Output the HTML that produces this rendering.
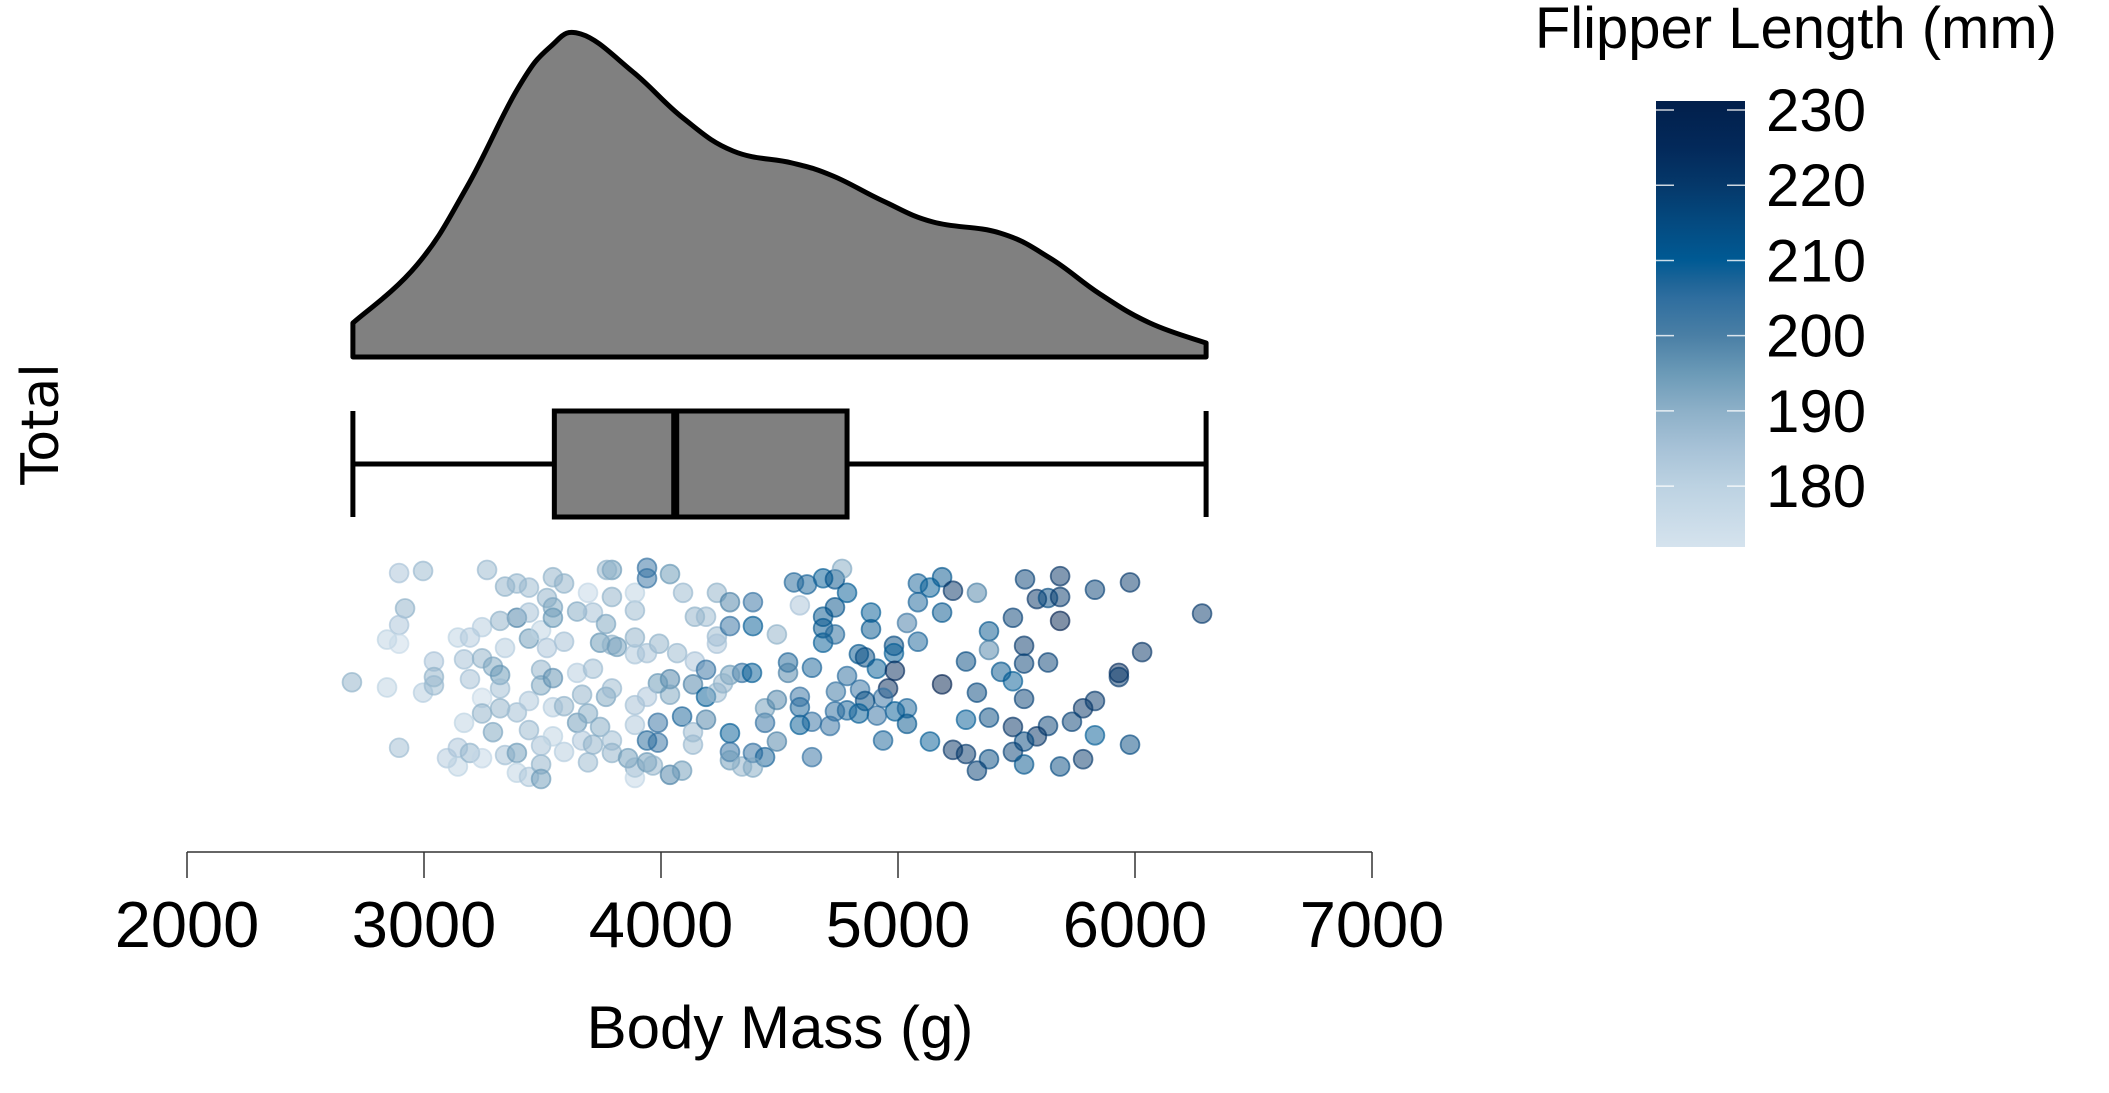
<!DOCTYPE html>
<html><head><meta charset="utf-8"><style>
html,body{margin:0;padding:0;background:#fff;}
svg{display:block;}
text{font-family:"Liberation Sans",sans-serif;fill:#000;}
</style></head><body>
<svg id="chart" width="2109" height="1093" viewBox="0 0 2109 1093" xmlns="http://www.w3.org/2000/svg">
<defs>
<linearGradient id="cbar" x1="0" y1="1" x2="0" y2="0"></linearGradient>
</defs>
<g id="density"></g>
<g id="box"></g>
<g id="points"></g>
<g id="xaxis"></g>
<text x="780" y="1048" font-size="60" text-anchor="middle">Body Mass (g)</text>
<text transform="translate(58,424) rotate(-90)" font-size="52" text-anchor="middle" style="font-family:'DejaVu Sans',sans-serif">Total</text>
<g id="legend">
<text x="2057" y="48" font-size="58" text-anchor="end">Flipper Length (mm)</text>
</g>
</svg>
<script>
const xTicks=[2000,3000,4000,5000,6000,7000];
const densMass=[2700,2970,3181,3392,3532,3662,3882,4093,4304,4553,4726,4937,5148,5430,5641,5852,6063,6300];
const densVal=[34,92,170,267,310,323,285,239,206,194,181,156,135,124,99,63,34,14];
const boxStats=[2700,3550,4060,4785,6300];
const cbTicks=[180,190,200,210,220,230];
const cbStopVals=[171.9,180,185,190,195,200,205,207,210,215,220,225,231.2];
const cbStopCols=["#d5e3ee","#bcd2e2","#a7c2d7","#8db0c8","#6b9ab7","#4a7fa5","#2f6e9f","#1f6598","#005a94","#044a80","#05386a","#03295a","#021f4b"];
const ptMass=[2696,2844,2895,2996,2920,2895,2844,2895,2996,3042,3042,3042,2895,3097,3143,3143,3194,3245,3169,3194,3169,3143,3194,3245,3266,3342,3392,3443,3245,3291,3321,3321,3245,3245,3291,3321,3342,3392,3392,3443,3494,3494,3443,3494,3392,3443,3342,3392,3321,3443,3443,3494,3519,3544,3544,3544,3591,3646,3692,3713,3591,3519,3494,3494,3544,3646,3713,3544,3591,3667,3646,3692,3667,3713,3692,3544,3591,3743,3793,3793,3768,3793,3743,3768,3793,3814,3793,3793,3772,3890,3890,3890,3890,3890,3861,3890,3890,3890,3941,3941,4038,3941,3966,4038,4089,3992,3941,4068,4038,4038,3987,3941,3987,3941,3987,4089,4135,4135,4135,4143,4190,4190,4190,4236,4143,4190,4093,4236,4236,4236,4291,4291,4388,4388,4489,4291,4291,4291,4342,4388,4439,4388,4439,4489,4439,4489,4342,4384,4291,4262,
5536,5684,5979,5831,5586,5633,5684,6283,5485,5684,5384,5384,5532,6030,5287,5532,5633,5435,5485,5932,5932,5186,5333,5532,5781,5831,5287,5384,5734,5485,5633,5586,5831,5532,5979,5135,5232,5287,5485,5384,5781,5333,5532,5684,4937,4637,5084,5186,5135,5232,5333,5084,5186,4886,4886,5038,5084,4983,4983,4835,4861,4911,4987,4785,4840,4958,4738,4937,4861,4987,5038,5038,4911,4835,4785,4734,4713,4637,4586,4586,4586,4637,4536,4536,4684,4684,4684,4734,4734,4785,4684,4734,4616,4561,4764,4586];
const ptJitter=[0.06,0.11,-0.99,-1.01,-0.65,-0.49,-0.35,-0.31,0.16,-0.14,0.01,0.09,0.69,0.79,0.69,0.87,0.74,0.79,0.45,0.03,-0.16,-0.37,-0.37,-0.47,-1.02,-0.86,-0.89,-0.85,-0.17,-0.09,-0.01,0.12,0.21,0.36,0.54,0.31,0.76,0.74,0.93,0.97,0.85,0.99,0.52,0.67,0.35,0.24,-0.27,-0.56,-0.53,-0.61,-0.36,-0.44,-0.75,-0.95,-0.66,-0.56,-0.89,-0.62,-0.80,-0.61,-0.33,-0.27,-0.06,0.09,0.02,-0.03,-0.07,0.30,0.29,0.18,0.45,0.36,0.62,0.66,0.83,0.58,0.73,0.49,0.62,0.74,0.20,0.12,-0.32,-0.50,-0.30,-0.28,-0.76,-1.02,-1.02,-0.63,-0.37,-0.21,0.28,0.47,0.79,0.88,0.98,-0.80,-1.04,-0.94,-0.98,0.83,0.86,0.95,0.91,-0.31,-0.22,-0.22,0.03,0.18,0.07,0.20,0.45,0.62,0.64,0.39,0.54,0.66,0.08,-0.14,-0.06,0.20,0.42,0.16,-0.57,-0.57,-0.80,-0.80,-0.38,-0.31,-0.71,-0.48,-0.71,-0.48,-0.40,0.55,0.73,0.81,0.87,0.74,0.78,0.88,0.45,0.63,0.31,0.23,-0.03,-0.03,-0.01,0.07,
-0.93,-0.96,-0.90,-0.83,-0.74,-0.75,-0.76,-0.60,-0.56,-0.53,-0.43,-0.25,-0.29,-0.23,-0.14,-0.12,-0.13,-0.04,0.05,-0.03,0.01,0.08,0.16,0.22,0.31,0.24,0.42,0.40,0.44,0.49,0.48,0.58,0.57,0.63,0.66,0.63,0.71,0.75,0.73,0.80,0.80,0.91,0.85,0.87,0.62,0.78,-0.89,-0.95,-0.85,-0.82,-0.80,-0.71,-0.61,-0.61,-0.45,-0.51,-0.33,-0.29,-0.22,-0.21,-0.18,-0.07,-0.05,0.00,0.13,0.12,0.15,0.21,0.24,0.34,0.31,0.46,0.38,0.36,0.33,0.34,0.48,0.44,0.47,0.30,0.20,-0.08,-0.13,-0.03,-0.32,-0.46,-0.57,-0.40,-0.66,-0.80,-0.94,-0.93,-0.88,-0.90,-1.03,-0.68];
const ptFlipper=[190,180,185,188,190,185,180,176,182,185,190,188,187,183,185,180,189,178,180,186,186,180,183,182,188,190,189,188,190,193,196,187,176,190,193,190,186,195,180,184,190,195,188,186,187,184,182,200,190,186,195,180,190,190,193,196,190,192,178,186,186,185,190,193,197,182,187,182,190,190,195,192,185,190,188,180,182,192,187,190,193,188,196,193,190,195,190,195,190,188,190,184,186,184,195,190,178,180,205,205,196,195,190,200,195,190,186,188,200,193,196,185,205,207,205,208,188,188,200,185,205,210,200,188,190,188,188,190,188,185,200,205,205,210,190,210,205,195,190,205,208,192,205,200,195,200,205,210,195,190,
218,222,220,218,222,215,220,220,218,230,212,200,220,222,215,218,218,212,210,225,220,230,216,218,222,220,210,215,218,222,218,222,210,216,215,210,222,220,218,215,220,218,212,215,208,205,208,212,210,222,200,208,212,210,212,202,208,215,210,212,215,210,225,206,205,225,204,205,215,210,208,212,205,210,208,206,205,205,210,208,205,208,207,200,210,212,212,207,213,210,210,213,208,207,192,185];

const NS='http://www.w3.org/2000/svg';
const svg=document.getElementById('chart');
const X0=187,PX=0.237;
function xs(m){return X0+(m-2000)*PX;}
const BASE=357;
function ds(v){return BASE-v;}
const JC=676,JS=104;
function js(j){return JC+j*JS;}
const CB_T=101,CB_B=547,CB_MIN=171.9,CB_MAX=231.2;
function cy(v){return CB_B-(v-CB_MIN)/(CB_MAX-CB_MIN)*(CB_B-CB_T);}
function mk(tag,attrs,parent){const e=document.createElementNS(NS,tag);for(const k in attrs)e.setAttribute(k,attrs[k]);parent.appendChild(e);return e;}
function hex(c){return [1,3,5].map(i=>parseInt(c.substr(i,2),16));}
function colorFor(v){
  if(v<=cbStopVals[0])return cbStopCols[0];
  for(let i=1;i<cbStopVals.length;i++){
    if(v<=cbStopVals[i]){const t=(v-cbStopVals[i-1])/(cbStopVals[i]-cbStopVals[i-1]);
      const a=hex(cbStopCols[i-1]),b=hex(cbStopCols[i]);
      return 'rgb('+a.map((x,k)=>Math.round(x+(b[k]-x)*t)).join(',')+')';}
  }
  return cbStopCols[cbStopCols.length-1];
}

const gD=document.getElementById('density');
let d='M'+xs(densMass[0])+','+BASE;
const pts=densMass.map((m,i)=>[xs(m),ds(densVal[i])]);
d+=' L'+pts[0][0]+','+pts[0][1];
for(let i=0;i<pts.length-1;i++){
  const p0=pts[Math.max(0,i-1)],p1=pts[i],p2=pts[i+1],p3=pts[Math.min(pts.length-1,i+2)];
  const c1=[p1[0]+(p2[0]-p0[0])/5,p1[1]+(p2[1]-p0[1])/5],c2=[p2[0]-(p3[0]-p1[0])/5,p2[1]-(p3[1]-p1[1])/5];
  d+=' C'+c1[0]+','+c1[1]+' '+c2[0]+','+c2[1]+' '+p2[0]+','+p2[1];
}
d+=' L'+xs(densMass[densMass.length-1])+','+BASE+' Z';
const dp=mk('path',{d:d,fill:'#808080',stroke:'#000','stroke-width':5,'stroke-linejoin':'round'},gD);



const gB=document.getElementById('box');
const BT=411,BB=517,BM=464;
const wl=mk('line',{x1:xs(boxStats[0]),x2:xs(boxStats[1]),y1:BM,y2:BM,stroke:'#000','stroke-width':5},gB);

const wr=mk('line',{x1:xs(boxStats[3]),x2:xs(boxStats[4]),y1:BM,y2:BM,stroke:'#000','stroke-width':5},gB);

const cl=mk('line',{x1:xs(boxStats[0]),x2:xs(boxStats[0]),y1:BT,y2:BB,stroke:'#000','stroke-width':5},gB);

const cr=mk('line',{x1:xs(boxStats[4]),x2:xs(boxStats[4]),y1:BT,y2:BB,stroke:'#000','stroke-width':5},gB);

const br=mk('rect',{x:xs(boxStats[1]),y:BT,width:xs(boxStats[3])-xs(boxStats[1]),height:BB-BT,fill:'#808080',stroke:'#000','stroke-width':5},gB);

const ml=mk('line',{x1:xs(boxStats[2]),x2:xs(boxStats[2]),y1:BT,y2:BB,stroke:'#000','stroke-width':8},gB);


const gP=document.getElementById('points');
const n=Math.min(ptMass.length,ptJitter.length,ptFlipper.length);
for(let i=0;i<n;i++){
  const c=colorFor(ptFlipper[i]);
  const e=mk('circle',{cx:xs(ptMass[i]),cy:js(ptJitter[i]),r:9.4,fill:c,'fill-opacity':0.5,stroke:c,'stroke-opacity':0.65,'stroke-width':1.8},gP);
  
  
}

const gX=document.getElementById('xaxis');
const al=mk('line',{x1:xs(xTicks[0]),x2:xs(xTicks[xTicks.length-1]),y1:852,y2:852,stroke:'#333','stroke-width':1.5},gX);

xTicks.forEach(t=>{
  const tl=mk('line',{x1:xs(t),x2:xs(t),y1:852,y2:878,stroke:'#333','stroke-width':1.5},gX);
  
  const tx=mk('text',{x:xs(t),y:947,'font-size':65,'text-anchor':'middle'},gX);
  tx.textContent=t;
  
});

const grad=document.getElementById('cbar');
cbStopVals.forEach((v,i)=>{mk('stop',{offset:((v-CB_MIN)/(CB_MAX-CB_MIN)),'stop-color':cbStopCols[i]},grad);});
const gL=document.getElementById('legend');
const cb=mk('rect',{x:1656,y:CB_T,width:89,height:CB_B-CB_T,fill:'url(#cbar)'},gL);

cbTicks.forEach(t=>{
  const y=cy(t);
  const a=mk('line',{x1:1656,x2:1674,y1:y,y2:y,stroke:'#fff','stroke-opacity':0.8,'stroke-width':1.5},gL);
  
  const b=mk('line',{x1:1727,x2:1745,y1:y,y2:y,stroke:'#fff','stroke-opacity':0.8,'stroke-width':1.5},gL);
  
  const tx=mk('text',{x:1766,y:y+21,'font-size':60},gL);
  tx.textContent=t;
  
});
</script>
</body></html>
